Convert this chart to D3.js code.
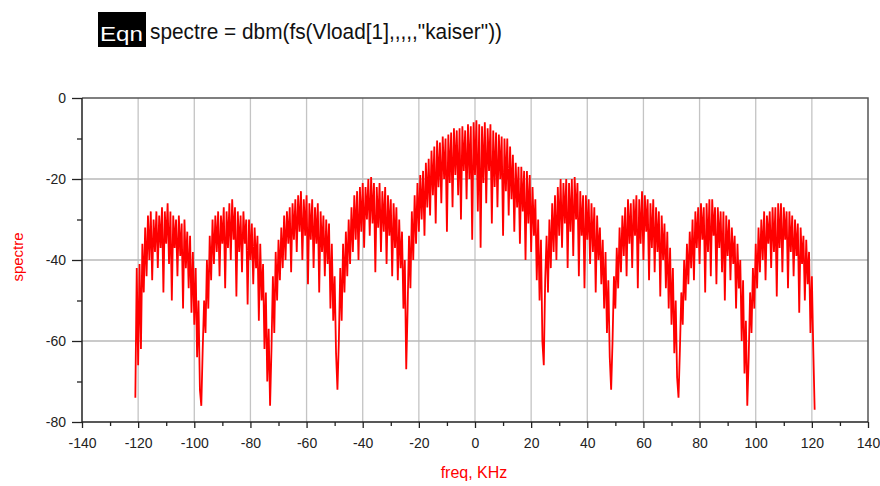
<!DOCTYPE html>
<html>
<head>
  <meta charset="utf-8">
  <title>spectre</title>
  <script src="https://cdn.jsdelivr.net/npm/d3@7"></script>
  <style>
    html, body { margin: 0; padding: 0; background: #fff; }
    svg { display: block; font-family: "Liberation Sans", Arial, sans-serif; }
    .tick text { font-size: 14px; fill: #222; }
    .tick line { stroke: #222; }
  </style>
</head>
<body>
<svg id="chart" width="880" height="486"></svg>
<script>
  // spectrum values (dBm), one array per lobe, sampled every freqStep kHz from lobeStart
  var freqStep = 0.5;
  var lobeStart = [-121, -97, -72.5, -48.5, -24, 24.5, 49, 73, 97.5];

  var lobeM4 = [-74,-42,-66,-41,-62,-36,-48,-32,-44,-29,-40,-28,-45,-30,-38,-28,-42,-29,-37,-27,-48,-28,-36,-26,
                -41,-28,-50,-29,-37,-30,-44,-29,-39,-31,-52,-30,-42,-33,-47,-34,-53,-38,-56,-42,-64,-50,-72,-76];
  var lobeM3 = [-62,-50,-58,-40,-52,-34,-45,-30,-41,-29,-38,-28,-44,-29,-36,-27,-47,-28,-37,-26,-40,-25,-35,-27,
                -49,-28,-38,-29,-43,-28,-36,-30,-51,-30,-40,-31,-46,-32,-42,-34,-55,-36,-50,-41,-62,-48,-70,-57,-76];
  var lobeM2 = [-62,-44,-58,-38,-50,-35,-45,-32,-42,-29,-40,-28,-36,-27,-43,-26,-35,-25,-38,-24,-33,-23,-40,-25,
                -34,-24,-46,-26,-35,-25,-42,-27,-36,-26,-48,-28,-38,-29,-44,-30,-41,-31,-52,-36,-55,-44,-63,-72];
  var lobeM1 = [-60,-42,-55,-36,-48,-33,-44,-30,-41,-27,-38,-24,-35,-23,-40,-22,-33,-21,-37,-22,-30,-20,-34,-19.5,
                -31,-21,-43,-22,-32,-21,-38,-23,-33,-22,-41,-24,-34,-25,-44,-26,-37,-27,-45,-30,-42,-33,-52,-40,-67];
  var mainLobe = [-52,-34,-47,-28,-40,-24,-36,-21,-33,-19,
                  -30,-18,-34,-16,-27,-15,-29,-13,-24,-12,
                  -31,-10.5,-22,-11,-26,-9.5,-20,-10,-33,-9,
                  -21,-8.5,-27,-7.5,-19,-8,-24,-7.5,-30,-7,
                  -18,-8,-25,-6.5,-20,-7,-35,-6,-19,-5.5,
                  -28,-6.5,-37,-7,-21,-6,-26,-7.5,-18,-6.5,
                  -31,-8,-22,-8.5,-27,-9,-20,-9.5,-34,-10,
                  -23,-10,-29,-12,-25,-14,-33,-16,-27,-17,
                  -36,-17,-28,-18,-40,-18,-31,-19,-38,-22,
                  -34,-25,-45,-30,-50,-35,-60];
  var lobeP1 = [-66,-45,-34,-48,-30,-42,-26,-38,-24,-40,-22,-34,-20,-37,-21,-31,-20,-42,-21,-33,-20,-39,-19.5,-30,
                -21,-44,-23,-34,-24,-47,-24,-35,-25,-41,-26,-38,-27,-48,-29,-40,-32,-46,-35,-52,-38,-58,-45,-64,-72];
  var lobeP2 = [-60,-44,-52,-37,-47,-32,-43,-29,-39,-27,-44,-25,-36,-26,-42,-25,-34,-24,-47,-25,-36,-23,-40,-24,
                -33,-25,-45,-26,-37,-25,-43,-27,-38,-28,-49,-29,-40,-31,-47,-33,-52,-37,-56,-42,-63,-50,-69,-74];
  var lobeP3 = [-62,-48,-56,-40,-50,-36,-46,-33,-42,-30,-45,-28,-37,-27,-41,-26,-35,-27,-48,-26,-38,-25,-44,-25,
                -34,-27,-46,-27,-37,-28,-43,-28,-50,-29,-39,-30,-45,-32,-41,-34,-52,-36,-47,-40,-60,-45,-68,-55,-76];
  var lobeP4 = [-64,-48,-58,-42,-52,-36,-47,-32,-43,-30,-40,-28,-45,-29,-36,-28,-42,-27,-38,-27,-49,-26,-37,-26,
                -43,-27,-35,-28,-47,-28,-38,-29,-44,-30,-39,-31,-53,-32,-41,-34,-50,-35,-46,-38,-58,-44,-62,-77];

  var xTicks = [-140, -120, -100, -80, -60, -40, -20, 0, 20, 40, 60, 80, 100, 120, 140];
  var yTicks = [0, -20, -40, -60, -80];

  var lobes = [lobeM4, lobeM3, lobeM2, lobeM1, mainLobe, lobeP1, lobeP2, lobeP3, lobeP4];
  var points = [];
  lobes.forEach(function(vals, k) {
    vals.forEach(function(v, i) {
      points.push({ f: lobeStart[k] + i * freqStep, v: v });
    });
  });

  var svg = d3.select('#chart');
  var pLeft = 82, pRight = 868, pTop = 98, pBottom = 422;

  var x = d3.scaleLinear().domain([-140, 140]).range([pLeft, pRight]);
  var y = d3.scaleLinear().domain([-80, 0]).range([pBottom, pTop]);
  var plain = function(d) { return String(d); };

  // title
  svg.append('rect')
    .attr('x', 98).attr('y', 12).attr('width', 48).attr('height', 35)
    .attr('fill', '#000');
  svg.append('text')
    .attr('x', 100).attr('y', 41)
    .attr('font-size', 21).attr('fill', '#fff')
    .attr('textLength', 43).attr('lengthAdjust', 'spacingAndGlyphs')
    .text('Eqn');
  svg.append('text')
    .attr('x', 150).attr('y', 39)
    .attr('font-size', 22).attr('fill', '#111')
    .attr('textLength', 352).attr('lengthAdjust', 'spacingAndGlyphs')
    .text('spectre = dbm(fs(Vload[1],,,,,"kaiser"))');

  // grid
  svg.append('g').selectAll('line')
    .data(xTicks.filter(function(d) { return d > -140 && d < 140; }))
    .enter().append('line')
      .attr('x1', function(d) { return x(d); }).attr('x2', function(d) { return x(d); })
      .attr('y1', pTop).attr('y2', pBottom)
      .attr('stroke', '#c4c4c4').attr('stroke-width', 1.3);
  svg.append('g').selectAll('line')
    .data(yTicks.filter(function(d) { return d > -80 && d < 0; }))
    .enter().append('line')
      .attr('x1', pLeft).attr('x2', pRight)
      .attr('y1', function(d) { return y(d); }).attr('y2', function(d) { return y(d); })
      .attr('stroke', '#b8b8b8').attr('stroke-width', 1.3);

  // spectrum
  var line = d3.line()
    .x(function(d) { return x(d.f); })
    .y(function(d) { return y(d.v); });
  svg.append('path')
    .datum(points)
    .attr('d', line)
    .attr('fill', 'none')
    .attr('stroke', '#ff0000')
    .attr('stroke-width', 1.8)
    .attr('stroke-linejoin', 'bevel');

  // frame
  svg.append('path')
    .attr('d', 'M' + pLeft + ',' + pTop + 'H' + pRight + 'V' + pBottom)
    .attr('fill', 'none').attr('stroke', '#555').attr('stroke-width', 1.5);

  // axes
  svg.append('g').attr('transform', 'translate(' + pLeft + ',0)')
    .call(d3.axisLeft(y).tickValues(yTicks).tickSize(10).tickPadding(6).tickFormat(plain));
  svg.append('g').attr('transform', 'translate(' + pLeft + ',0)')
    .call(d3.axisLeft(y).tickValues([-10, -30, -50, -70]).tickSize(5).tickFormat(''));
  svg.append('g').attr('transform', 'translate(0,' + pBottom + ')')
    .call(d3.axisBottom(x).tickValues(xTicks).tickSize(6).tickPadding(10).tickFormat(plain));
  svg.append('g').attr('transform', 'translate(0,' + pBottom + ')')
    .call(d3.axisBottom(x).tickValues(d3.range(-130, 140, 20)).tickSize(4).tickFormat(''));
  svg.selectAll('.domain').remove();
  svg.selectAll('.tick line').attr('stroke-width', 1.3);

  svg.append('path')
    .attr('d', 'M' + pLeft + ',' + pTop + 'V' + pBottom + 'H' + pRight)
    .attr('fill', 'none').attr('stroke', '#222').attr('stroke-width', 1.5);

  // axis titles
  svg.append('text')
    .attr('transform', 'translate(23,257) rotate(-90)')
    .attr('text-anchor', 'middle')
    .attr('font-size', 15).attr('fill', '#ff0000')
    .text('spectre');
  svg.append('text')
    .attr('x', 474).attr('y', 478)
    .attr('text-anchor', 'middle')
    .attr('font-size', 16).attr('fill', '#ff0000')
    .text('freq, KHz');
</script>
</body>
</html>
